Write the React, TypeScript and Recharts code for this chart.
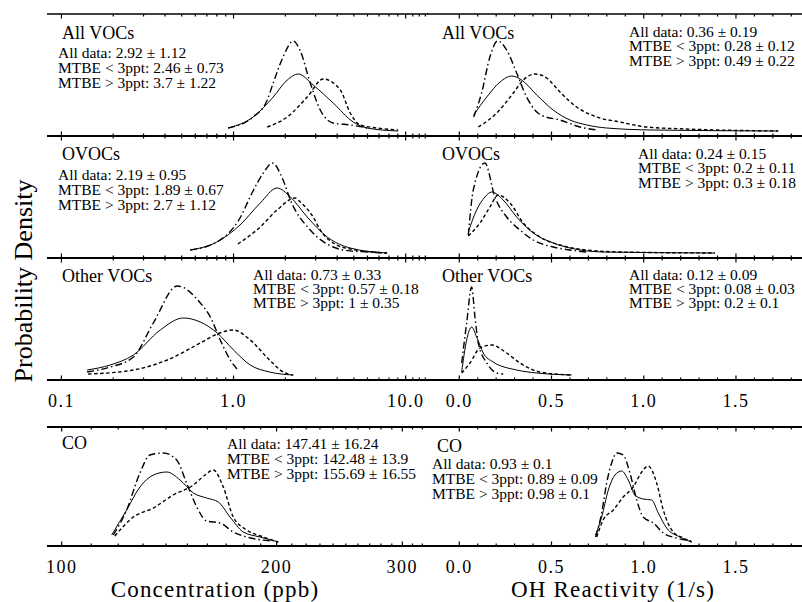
import React from 'react';
import { LineChart, Line, XAxis, YAxis, ReferenceLine } from 'recharts';

type Pt = [number, number];

const FONT = "'Liberation Serif', 'Times New Roman', serif";

// x ticks
const concTicks = [0.1, 0.2, 0.3, 0.4, 0.5, 0.6, 0.7, 0.8, 0.9, 1, 2, 3, 4, 5, 6, 7, 8, 9, 10, 11, 12, 13];
const concMajor = [0.1, 1, 10];
const concLabels = ['0.1', '1.0', '10.0'];
const ohTicks = [0, 0.1, 0.2, 0.3, 0.4, 0.5, 0.6, 0.7, 0.8, 0.9, 1, 1.1, 1.2, 1.3, 1.4, 1.5, 1.6, 1.7, 1.8];
const ohMajor = [0, 0.5, 1, 1.5];
const ohLabels = ['0.0', '0.5', '1.0', '1.5'];
const coTicks = [100, 110, 120, 130, 140, 150, 160, 170, 180, 190, 200, 210, 220, 230, 240, 250, 260, 270, 280, 290, 300, 310, 320];
const coMajor = [100, 200, 300];
const coLabels = ['100', '200', '300'];

const statLabels = ['All data', 'MTBE < 3ppt', 'MTBE > 3ppt'];

// mean, sd for all data / MTBE < 3ppt / MTBE > 3ppt
const vocConcStats: Pt[] = [[2.92, 1.12], [2.46, 0.73], [3.7, 1.22]];
const vocOhStats: Pt[] = [[0.36, 0.19], [0.28, 0.12], [0.49, 0.22]];
const ovocConcStats: Pt[] = [[2.19, 0.95], [1.89, 0.67], [2.7, 1.12]];
const ovocOhStats: Pt[] = [[0.24, 0.15], [0.2, 0.11], [0.3, 0.18]];
const otherConcStats: Pt[] = [[0.73, 0.33], [0.57, 0.18], [1, 0.35]];
const otherOhStats: Pt[] = [[0.12, 0.09], [0.08, 0.03], [0.2, 0.1]];
const coConcStats: Pt[] = [[147.41, 16.24], [142.48, 13.9], [155.69, 16.55]];
const coOhStats: Pt[] = [[0.93, 0.1], [0.89, 0.09], [0.98, 0.1]];

// probability density curves (arbitrary units), [x, density]
const vocConcAll: Pt[] = [[0.93, 8], [1.3, 19], [1.7, 39], [2.05, 56], [2.38, 62], [2.9, 51], [3.79, 33], [4.96, 14], [5.97, 8], [9.04, 5]];
const vocConcLow: Pt[] = [[0.93, 8], [1.3, 19], [1.57, 36], [1.7, 53], [1.94, 79], [2.22, 95], [2.43, 86], [2.79, 53], [3.19, 26], [3.79, 13], [4.76, 11], [5.97, 8]];
const vocConcHigh: Pt[] = [[1.57, 9], [2.05, 19], [2.68, 39], [3.32, 57], [4.17, 46], [4.76, 23], [5.44, 11], [6.83, 8], [9.04, 6]];

const vocOhAll: Pt[] = [[0.078, 21], [0.149, 39], [0.221, 54], [0.284, 60], [0.338, 56], [0.42, 41], [0.509, 26], [0.6, 16], [0.691, 11], [0.799, 8], [1.052, 6], [1.729, 5]];
const vocOhLow: Pt[] = [[0.078, 19], [0.121, 43], [0.166, 79], [0.208, 95], [0.257, 86], [0.311, 63], [0.365, 39], [0.42, 24], [0.455, 20], [0.546, 16], [0.654, 9], [0.745, 6]];
const vocOhHigh: Pt[] = [[0.103, 9], [0.203, 23], [0.293, 43], [0.347, 56], [0.41, 62], [0.474, 58], [0.546, 44], [0.636, 29], [0.745, 19], [0.871, 14], [1.016, 9], [1.232, 7], [1.729, 5]];

const ovocConcAll: Pt[] = [[0.56, 8], [0.8, 16], [1.09, 33], [1.43, 55], [1.79, 70], [2.14, 61], [2.68, 41], [3.5, 21], [4.76, 10], [7.8, 5]];
const ovocConcLow: Pt[] = [[0.56, 8], [0.8, 16], [1.09, 40], [1.28, 65], [1.49, 85], [1.68, 95], [1.94, 78], [2.14, 58], [2.79, 28], [3.79, 11], [4.34, 8], [5.97, 6], [7.8, 5]];
const ovocConcHigh: Pt[] = [[1.06, 14], [1.43, 31], [1.79, 48], [2.28, 60], [2.44, 56], [2.9, 41], [3.19, 28], [3.79, 15], [4.76, 9], [7.8, 5]];

const ovocOhAll: Pt[] = [[0.049, 26], [0.094, 48], [0.139, 61], [0.176, 66], [0.238, 58], [0.311, 41], [0.401, 25], [0.509, 15], [0.6, 10], [0.78, 6], [1.386, 5]];
const ovocOhLow: Pt[] = [[0.049, 23], [0.076, 68], [0.139, 95], [0.193, 61], [0.257, 41], [0.329, 28], [0.401, 18], [0.509, 11], [0.6, 8], [0.691, 6]];
const ovocOhHigh: Pt[] = [[0.049, 22], [0.112, 35], [0.166, 51], [0.211, 63], [0.275, 55], [0.347, 35], [0.437, 21], [0.546, 13], [0.691, 8], [0.871, 6], [1.386, 5]];

const otherConcAll: Pt[] = [[0.141, 10], [0.192, 15], [0.262, 25], [0.375, 50], [0.511, 62], [0.641, 58], [0.804, 47], [1.0, 30], [1.25, 15], [1.62, 8], [2.22, 5]];
const otherConcLow: Pt[] = [[0.141, 8], [0.192, 13], [0.262, 23], [0.342, 57], [0.471, 94], [0.641, 77], [0.733, 63], [0.837, 40], [0.957, 20], [1.06, 10]];
const otherConcHigh: Pt[] = [[0.143, 6], [0.262, 10], [0.412, 20], [0.641, 37], [0.804, 46], [1.0, 50], [1.25, 40], [1.62, 20], [1.94, 8], [2.22, 5]];

const otherOhAll: Pt[] = [[0.013, 8], [0.04, 40], [0.067, 53], [0.094, 43], [0.13, 27], [0.184, 18], [0.311, 10], [0.42, 7], [0.609, 5]];
const otherOhLow: Pt[] = [[0.013, 17], [0.04, 57], [0.067, 93], [0.085, 63], [0.103, 37], [0.149, 17], [0.203, 7], [0.238, 6]];
const otherOhHigh: Pt[] = [[0.013, 7], [0.058, 17], [0.112, 32], [0.176, 35], [0.257, 27], [0.329, 17], [0.437, 8], [0.609, 5]];

const coConcAll: Pt[] = [[117.5, 11], [123.3, 36], [128.7, 59], [134.4, 71], [140.3, 74], [146.5, 66], [152.9, 53], [159.6, 48], [165.7, 44], [172.1, 29], [179.6, 14], [189.5, 9], [201.1, 4]];
const coConcLow: Pt[] = [[118.1, 11], [123.3, 36], [128.7, 73], [132.9, 91], [138.8, 93], [144.9, 86], [149.6, 63], [154.6, 39], [159.6, 25], [166.6, 23], [173.9, 14], [181.6, 9], [197.9, 5]];
const coConcHigh: Pt[] = [[118.7, 10], [126.0, 29], [134.4, 38], [143.3, 51], [152.9, 61], [158.8, 71], [163.0, 76], [168.4, 59], [173.9, 29], [181.6, 16], [191.6, 9], [201.1, 4]];

const coOhAll: Pt[] = [[0.739, 11], [0.772, 29], [0.808, 56], [0.844, 71], [0.88, 75], [0.916, 66], [0.952, 51], [0.997, 47], [1.043, 46], [1.079, 33], [1.124, 18], [1.196, 9], [1.26, 4]];
const coOhLow: Pt[] = [[0.739, 9], [0.772, 33], [0.799, 63], [0.826, 83], [0.853, 93], [0.889, 91], [0.925, 73], [0.962, 46], [0.997, 29], [1.052, 23], [1.106, 13], [1.178, 8], [1.26, 5]];
const coOhHigh: Pt[] = [[0.745, 9], [0.78, 26], [0.835, 36], [0.889, 49], [0.943, 59], [0.989, 74], [1.024, 80], [1.07, 63], [1.106, 36], [1.16, 14], [1.214, 8], [1.26, 4]];

// solid = all data, dash-dot = MTBE < 3ppt, dashed = MTBE > 3ppt
const lineStyles = [
  { width: 1, dash: undefined as string | undefined },
  { width: 1.4, dash: '7 3 1.5 3' },
  { width: 1.4, dash: '3.5 2.5' },
];

function tickRenderer(major: number[], labels: string[] | undefined, plotH: number, labelOffset: number) {
  return (props: any) => {
    const { x, y, payload } = props;
    const idx = major.findIndex((m) => Math.abs(m - payload.value) < 1e-6);
    const len = idx >= 0 ? 4.5 : 2.5;
    return (
      <g>
        <line x1={x} x2={x} y1={y} y2={y - len} stroke="#000" strokeWidth={1.2} />
        <line x1={x} x2={x} y1={y - plotH} y2={y - plotH + len} stroke="#000" strokeWidth={1.2} />
        {labels && idx >= 0 ? (
          <text x={x} y={y + labelOffset} textAnchor="middle" dominantBaseline="central" fontFamily={FONT} fontSize={18} letterSpacing={1.5} fill="#000">
            {labels[idx]}
          </text>
        ) : null}
      </g>
    );
  };
}

interface PanelProps {
  left: number;
  top: number;
  width: number;
  height: number;
  domain: [number, number];
  log?: boolean;
  ticks: number[];
  major: number[];
  labels?: string[];
  labelOffset?: number;
  series: Pt[][];
  topStroke: number;
  leftStroke: string;
  leftWidth: number;
}

function Panel(p: PanelProps) {
  const pad = 8;
  const bottomSpace = p.labels ? 36 : pad;
  return (
    <div style={{ position: 'absolute', left: p.left - pad, top: p.top - pad }}>
      <LineChart width={p.width + pad} height={p.height + pad + bottomSpace} margin={{ top: pad, left: pad, right: 0, bottom: 0 }}>
        <XAxis
          type="number"
          dataKey="x"
          scale={p.log ? 'log' : 'linear'}
          domain={p.domain}
          allowDataOverflow
          ticks={p.ticks}
          interval={0}
          height={bottomSpace}
          tickSize={0}
          tickMargin={0}
          tickLine={false}
          axisLine={{ stroke: '#000', strokeWidth: 2 }}
          tick={tickRenderer(p.major, p.labels, p.height, p.labelOffset ?? 20)}
        />
        <YAxis
          type="number"
          domain={[0, p.height]}
          allowDataOverflow
          width={0}
          tick={false}
          tickLine={false}
          axisLine={{ stroke: p.leftStroke, strokeWidth: p.leftWidth }}
        />
        <ReferenceLine y={p.height} stroke="#000" strokeWidth={p.topStroke} />
        {p.series.map((s, i) => (
          <Line
            key={i}
            data={s.map(([x, y]) => ({ x, y }))}
            dataKey="y"
            type="monotone"
            dot={false}
            activeDot={false}
            isAnimationActive={false}
            stroke="#000"
            strokeWidth={lineStyles[i].width}
            strokeDasharray={lineStyles[i].dash}
          />
        ))}
      </LineChart>
    </div>
  );
}

function Txt({ x, y, size, lh, children, center, spacing }: { x: number; y: number; size: number; lh: number; children: React.ReactNode; center?: boolean; spacing?: number }) {
  return (
    <div
      style={{
        position: 'absolute',
        left: x,
        top: y - lh / 2,
        lineHeight: `${lh}px`,
        fontSize: size,
        fontFamily: FONT,
        whiteSpace: 'pre',
        color: '#000',
        letterSpacing: spacing,
        transform: center ? 'translateX(-50%)' : undefined,
      }}
    >
      {children}
    </div>
  );
}

// the three statistics lines of a panel as one text block
function Stats({ x, y, step, stats }: { x: number; y: number; step: number; stats: Pt[] }) {
  const text = stats.map(([m, s], i) => `${statLabels[i]}: ${m} \u00b1 ${s}`).join('\n');
  return (
    <div
      style={{
        position: 'absolute',
        left: x,
        top: y - step / 2,
        lineHeight: `${step}px`,
        fontSize: 15.5,
        fontFamily: FONT,
        whiteSpace: 'pre',
        color: '#000',
      }}
    >
      {text}
    </div>
  );
}

const LX = 47;
const LW = 381;
const RX = 427;
const RW = 375;
const concDomain: [number, number] = [0.08247, 13.48];
const ohDomain: [number, number] = [-0.175, 1.858];
const coDomain: [number, number] = [95.37, 325.9];

export default function App() {
  const rows = [
    { top: 14, left: [vocConcAll, vocConcLow, vocConcHigh], right: [vocOhAll, vocOhLow, vocOhHigh], topStroke: 1.3 },
    { top: 136, left: [ovocConcAll, ovocConcLow, ovocConcHigh], right: [ovocOhAll, ovocOhLow, ovocOhHigh], topStroke: 2 },
    { top: 258, left: [otherConcAll, otherConcLow, otherConcHigh], right: [otherOhAll, otherOhLow, otherOhHigh], topStroke: 2 },
  ];
  return (
    <div style={{ position: 'absolute', left: 0, top: 0, width: 802, height: 602, background: '#fff', overflow: 'hidden' }}>
      {rows.map((r, i) => (
        <React.Fragment key={i}>
          <Panel
            left={LX} top={r.top} width={LW} height={122} domain={concDomain} log
            ticks={concTicks} major={concMajor} labels={i === 2 ? concLabels : undefined} labelOffset={21}
            series={r.left} topStroke={r.topStroke} leftStroke="#000" leftWidth={1.3}
          />
          <Panel
            left={RX} top={r.top} width={RW} height={122} domain={ohDomain}
            ticks={ohTicks} major={ohMajor} labels={i === 2 ? ohLabels : undefined} labelOffset={21}
            series={r.right} topStroke={r.topStroke} leftStroke="#333" leftWidth={2.5}
          />
        </React.Fragment>
      ))}
      <Panel
        left={LX} top={427} width={LW} height={119} domain={coDomain} log
        ticks={coTicks} major={coMajor} labels={coLabels} labelOffset={21}
        series={[coConcAll, coConcLow, coConcHigh]} topStroke={2} leftStroke="#000" leftWidth={1.3}
      />
      <Panel
        left={RX} top={427} width={RW} height={119} domain={ohDomain}
        ticks={ohTicks} major={ohMajor} labels={ohLabels} labelOffset={21}
        series={[coOhAll, coOhLow, coOhHigh]} topStroke={2} leftStroke="#333" leftWidth={2.5}
      />

      <Txt x={62} y={33} size={18} lh={16}>All VOCs</Txt>
      <Stats x={58} y={52} step={15} stats={vocConcStats} />
      <Txt x={442} y={33} size={18} lh={16}>All VOCs</Txt>
      <Stats x={629} y={32} step={14.7} stats={vocOhStats} />

      <Txt x={62} y={154} size={18} lh={16}>OVOCs</Txt>
      <Stats x={58} y={174} step={15} stats={ovocConcStats} />
      <Txt x={442} y={154} size={18} lh={16}>OVOCs</Txt>
      <Stats x={638} y={154} step={14.5} stats={ovocOhStats} />

      <Txt x={62} y={276} size={18} lh={16}>Other VOCs</Txt>
      <Stats x={253} y={275} step={14} stats={otherConcStats} />
      <Txt x={442} y={276} size={18} lh={16}>Other VOCs</Txt>
      <Stats x={629} y={275} step={14} stats={otherOhStats} />

      <Txt x={62} y={443} size={18} lh={16}>CO</Txt>
      <Stats x={227} y={443} step={15} stats={coConcStats} />
      <Txt x={437} y={446} size={18} lh={16}>CO</Txt>
      <Stats x={432} y={463} step={15} stats={coOhStats} />

      <Txt x={215} y={589} size={23} lh={25} spacing={1.2} center>Concentration (ppb)</Txt>
      <Txt x={613} y={589} size={23} lh={25} spacing={1.2} center>OH Reactivity (1/s)</Txt>
      <div
        style={{
          position: 'absolute',
          left: 23,
          top: 281,
          transform: 'translate(-50%, -50%) rotate(-90deg)',
          fontFamily: FONT,
          fontSize: 26,
          lineHeight: '29px',
          whiteSpace: 'pre',
          color: '#000',
        }}
      >
        Probability Density
      </div>
    </div>
  );
}
